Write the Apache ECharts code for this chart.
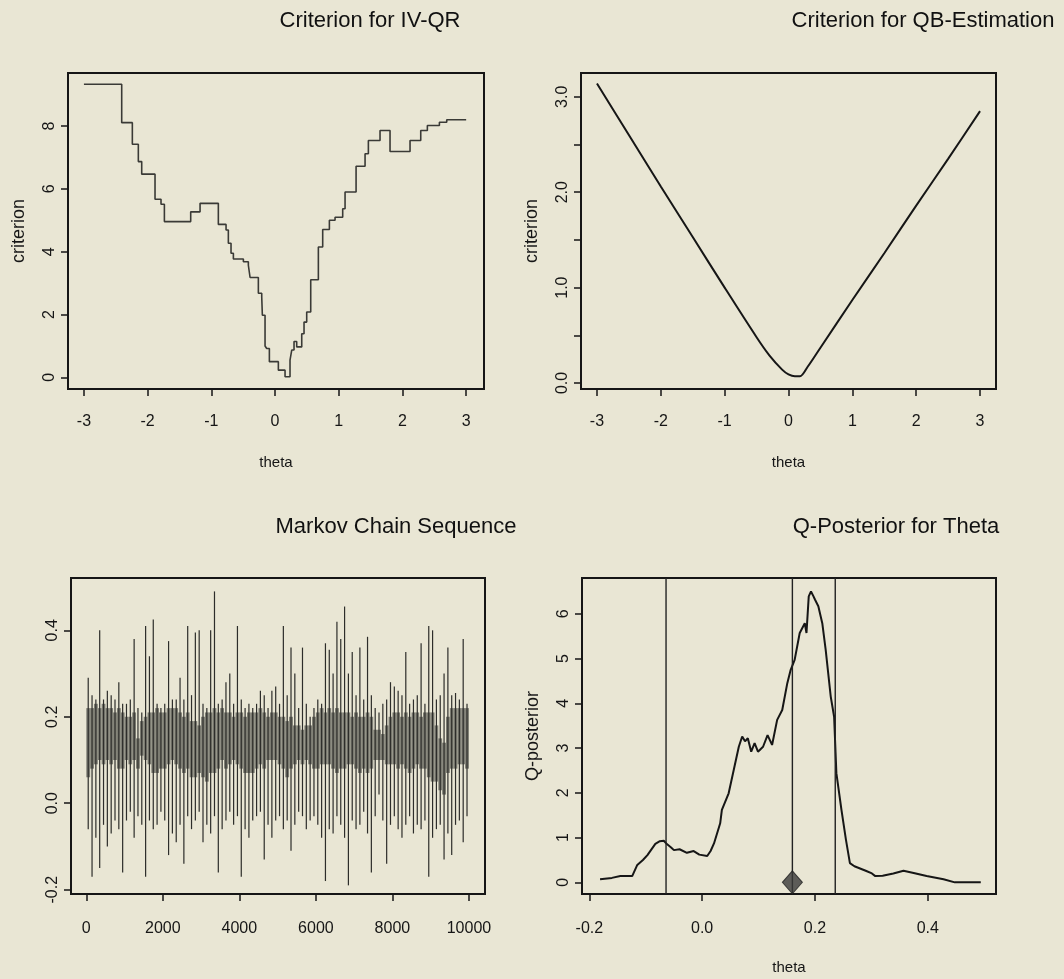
<!DOCTYPE html>
<html><head><meta charset="utf-8">
<script src="https://cdn.jsdelivr.net/npm/echarts@6/dist/echarts.min.js"></script>
<style>html,body{margin:0;padding:0;background:#e9e6d4;}#c{width:1064px;height:979px;}</style>
</head><body><div id="c"></div>
<script>
// ---------- Panel 1: Criterion for IV-QR (step function; value holds from each theta to the next) ----------
const thetaIV = [-3.0,-2.407,-2.240,-2.146,-2.093,-1.884,-1.790,-1.737,-1.324,-1.177,-0.890,-0.769,-0.733,-0.691,-0.654,-0.497,-0.419,-0.392,-0.262,-0.209,-0.199,-0.157,-0.131,-0.089,0.052,0.157,0.235,0.262,0.298,0.340,0.419,0.455,0.497,0.560,0.680,0.748,0.853,0.942,1.062,1.099,1.272,1.413,1.465,1.648,1.805,2.119,2.287,2.391,2.580,2.695,3.0];
const critIV  = [9.33,8.11,7.42,6.87,6.47,5.67,5.51,4.96,5.27,5.54,4.87,4.69,4.27,3.95,3.77,3.68,3.57,3.18,2.68,2.56,1.98,1.00,0.92,0.50,0.23,0.02,0.55,0.87,1.14,0.97,1.39,1.76,2.08,3.11,4.15,4.71,5.00,5.10,5.37,5.90,6.72,7.12,7.54,7.86,7.19,7.54,7.86,8.02,8.12,8.20,8.20];
const ivXTicks = [-3,-2,-1,0,1,2,3];
const ivYTicks = [0,2,4,6,8];

// ---------- Panel 2: Criterion for QB-Estimation ----------
const thetaQB = [-3.0,-2.5,-2.0,-1.5,-1.0,-0.5,-0.3,-0.1,0.0,0.1,0.18,0.3,0.5,1.0,1.5,2.0,2.5,3.0];
const critQB  = [3.14,2.60,2.06,1.53,1.00,0.48,0.29,0.14,0.09,0.07,0.07,0.17,0.37,0.87,1.36,1.86,2.35,2.85];
const qbXTicks = [-3,-2,-1,0,1,2,3];
const qbYTicks = [0,0.5,1,1.5,2,2.5,3];
const qbYLabels = [0,1,2,3];

// ---------- Panel 3: Markov Chain Sequence (per 100-iteration bin: extreme low/high, dense band low/high) ----------
const mcBinWidth = 100;
const mcHigh = [0.29,0.25,0.24,0.40,0.24,0.26,0.25,0.24,0.28,0.23,
                0.23,0.24,0.38,0.22,0.21,0.41,0.34,0.425,0.23,0.22,
                0.23,0.375,0.24,0.24,0.29,0.24,0.41,0.25,0.395,0.40,
                0.23,0.22,0.40,0.49,0.23,0.24,0.28,0.30,0.23,0.41,
                0.24,0.22,0.23,0.22,0.23,0.26,0.25,0.22,0.26,0.27,
                0.23,0.41,0.25,0.36,0.30,0.22,0.36,0.23,0.20,0.22,
                0.24,0.23,0.37,0.355,0.30,0.42,0.38,0.455,0.30,0.35,
                0.25,0.36,0.24,0.385,0.25,0.22,0.21,0.23,0.24,0.28,
                0.27,0.26,0.25,0.35,0.23,0.24,0.25,0.37,0.23,0.41,
                0.40,0.24,0.25,0.30,0.36,0.25,0.255,0.24,0.38,0.23];
const mcLow = [-0.06,-0.17,-0.08,-0.15,-0.05,-0.10,-0.07,-0.04,-0.06,-0.16,
               -0.04,-0.02,-0.08,-0.03,-0.05,-0.17,-0.04,-0.06,-0.05,-0.02,
               -0.04,-0.12,-0.07,-0.09,-0.05,-0.14,-0.03,-0.06,-0.04,-0.02,
               -0.09,-0.05,-0.07,-0.03,-0.16,-0.06,-0.04,-0.02,-0.05,-0.03,
               -0.17,-0.06,-0.08,-0.04,-0.03,-0.02,-0.13,-0.05,-0.08,-0.04,
               -0.03,-0.06,-0.04,-0.11,-0.05,-0.02,-0.03,-0.06,-0.04,-0.03,
               -0.05,-0.08,-0.18,-0.06,-0.07,-0.03,-0.05,-0.08,-0.19,-0.04,
               -0.06,-0.05,-0.02,-0.07,-0.16,-0.03,0.02,-0.04,-0.14,-0.05,
               -0.03,-0.06,-0.08,-0.05,-0.03,-0.07,-0.05,-0.06,-0.04,-0.17,
               -0.08,-0.06,-0.05,-0.13,-0.07,-0.12,-0.05,-0.04,-0.09,-0.03];
const mcBandHi = [0.22,0.22,0.23,0.22,0.23,0.22,0.22,0.21,0.22,0.21,
                  0.20,0.20,0.21,0.15,0.19,0.20,0.21,0.21,0.22,0.21,
                  0.21,0.22,0.22,0.22,0.21,0.20,0.21,0.19,0.19,0.18,
                  0.20,0.21,0.21,0.22,0.21,0.22,0.21,0.21,0.20,0.21,
                  0.21,0.20,0.21,0.21,0.21,0.22,0.21,0.20,0.21,0.21,
                  0.20,0.20,0.19,0.20,0.18,0.18,0.17,0.18,0.18,0.20,
                  0.21,0.22,0.21,0.22,0.21,0.22,0.21,0.21,0.21,0.20,
                  0.21,0.20,0.20,0.21,0.20,0.17,0.17,0.16,0.18,0.20,
                  0.21,0.21,0.20,0.21,0.20,0.21,0.21,0.20,0.21,0.21,
                  0.21,0.18,0.15,0.14,0.20,0.22,0.22,0.22,0.22,0.22];
const mcBandLo = [0.06,0.08,0.09,0.10,0.09,0.10,0.09,0.10,0.08,0.08,
                  0.10,0.09,0.10,0.08,0.11,0.10,0.09,0.07,0.07,0.08,
                  0.08,0.09,0.10,0.09,0.08,0.07,0.08,0.06,0.06,0.07,
                  0.06,0.05,0.07,0.07,0.08,0.10,0.08,0.09,0.10,0.09,
                  0.08,0.07,0.07,0.07,0.08,0.09,0.08,0.10,0.10,0.10,
                  0.09,0.08,0.06,0.08,0.09,0.10,0.09,0.10,0.09,0.08,
                  0.08,0.09,0.09,0.09,0.08,0.07,0.08,0.08,0.09,0.09,
                  0.08,0.07,0.08,0.07,0.08,0.10,0.10,0.10,0.09,0.09,
                  0.09,0.08,0.09,0.08,0.07,0.08,0.09,0.08,0.08,0.06,
                  0.05,0.05,0.03,0.02,0.07,0.08,0.08,0.09,0.09,0.08];
const mcXTicks = [0,2000,4000,6000,8000,10000];
const mcYTicks = [-0.2,0,0.2,0.4];

// ---------- Panel 4: Q-Posterior for Theta ----------
const thetaQP = [-0.181,-0.160,-0.145,-0.124,-0.115,-0.105,-0.097,-0.083,-0.075,-0.068,-0.062,-0.055,-0.050,-0.040,-0.027,-0.015,-0.005,0.009,0.015,0.021,0.032,0.035,0.047,0.056,0.065,0.071,0.076,0.081,0.087,0.093,0.099,0.108,0.116,0.124,0.133,0.142,0.151,0.157,0.164,0.173,0.182,0.185,0.189,0.193,0.197,0.200,0.206,0.213,0.219,0.228,0.234,0.238,0.247,0.255,0.262,0.270,0.280,0.290,0.301,0.307,0.320,0.339,0.357,0.375,0.398,0.428,0.448,0.494];
const postQP  = [0.07,0.10,0.14,0.14,0.39,0.50,0.61,0.86,0.92,0.93,0.85,0.78,0.72,0.74,0.66,0.70,0.62,0.59,0.70,0.87,1.32,1.62,1.99,2.51,3.03,3.26,3.15,3.22,2.92,3.11,2.92,3.03,3.29,3.07,3.63,3.85,4.45,4.75,4.97,5.57,5.79,5.57,6.39,6.50,6.40,6.32,6.17,5.79,5.20,4.15,3.70,2.44,1.62,0.95,0.43,0.36,0.31,0.26,0.20,0.14,0.15,0.20,0.26,0.21,0.14,0.07,0.00,0.00];
const qpIntervalLines = [-0.064,0.160,0.236];
const qpEstimate = [0.160, 0];
const qpXTicks = [-0.2,0,0.2,0.4];
const qpYTicks = [0,1,2,3,4,5,6];

// ---------- layout / style ----------
const FONT = "'Liberation Sans', Arial, sans-serif";
const INK = '#161616';
const QP_YMIN = -0.26, QP_YMAX = 6.8;
const grids = [
  {left:68, top:73, width:416, height:316},
  {left:581, top:73, width:415, height:316},
  {left:71, top:578, width:414, height:316},
  {left:582, top:578, width:414, height:316}
];

function xAxis(gi, min, max, ticks, fmt, name, margin) {
  return {
    type:'value', gridIndex:gi, min:min, max:max, position:'bottom',
    axisLine:{show:false, onZero:false},
    axisTick:{show:true, inside:false, length:7, customValues:ticks, lineStyle:{color:INK, width:1.5}},
    axisLabel:{customValues:ticks, formatter:fmt, margin:margin, color:INK, fontSize:16, fontFamily:FONT},
    splitLine:{show:false},
    name:name || '', nameLocation:'middle', nameGap:66,
    nameTextStyle:{color:INK, fontSize:15, fontFamily:FONT}
  };
}
function yAxis(gi, min, max, ticks, labels, fmt, name) {
  return {
    type:'value', gridIndex:gi, min:min, max:max, position:'left',
    axisLine:{show:false, onZero:false},
    axisTick:{show:true, inside:false, length:7, customValues:ticks, lineStyle:{color:INK, width:1.5}},
    axisLabel:{customValues:labels, formatter:fmt, rotate:90, margin:10, color:INK, fontSize:16, fontFamily:FONT},
    splitLine:{show:false},
    name:name || '', nameLocation:'middle', nameGap:40, nameRotate:90,
    nameTextStyle:{color:INK, fontSize:18, fontFamily:FONT}
  };
}
const intFmt = v => String(Math.round(v));
const f1 = v => v.toFixed(1);

const series = [];
// panel 1
series.push({type:'line', xAxisIndex:0, yAxisIndex:0, step:'end', showSymbol:false,
  data:thetaIV.map((t,i)=>[t, critIV[i]]), lineStyle:{color:'#3a3a36', width:1.6}});
// panel 2
series.push({type:'line', xAxisIndex:1, yAxisIndex:1, showSymbol:false, smooth:0.3,
  data:thetaQB.map((t,i)=>[t, critQB[i]]), lineStyle:{color:INK, width:2}});
// panel 3
series.push({type:'custom', xAxisIndex:2, yAxisIndex:2,
  data:mcHigh.map((h,i)=>[i*mcBinWidth + mcBinWidth/2, mcLow[i], h, mcBandLo[i], mcBandHi[i]]),
  encode:{x:0, y:[1,2,3,4]},
  renderItem:function(params, api){
    const x = api.value(0);
    const p1 = api.coord([x, api.value(1)]);
    const p2 = api.coord([x, api.value(2)]);
    const b1 = api.coord([x - mcBinWidth/2, api.value(4)]);
    const b2 = api.coord([x + mcBinWidth/2, api.value(3)]);
    return {type:'group', children:[
      {type:'rect', shape:{x:b1[0], y:b1[1], width:b2[0]-b1[0], height:b2[1]-b1[1]}, style:{fill:'#7c7c72'}},
      {type:'line', shape:{x1:p1[0], y1:p1[1], x2:p2[0], y2:p2[1]}, style:{stroke:'#2d2d2a', lineWidth:1.2}}
    ]};
  }
});
// panel 4
series.push({type:'line', xAxisIndex:3, yAxisIndex:3, showSymbol:false,
  data:thetaQP.map((t,i)=>[t, postQP[i]]), lineStyle:{color:INK, width:2}});
qpIntervalLines.forEach(x => series.push({type:'line', xAxisIndex:3, yAxisIndex:3, showSymbol:false,
  data:[[x, QP_YMIN],[x, QP_YMAX]], lineStyle:{color:'#222', width:1.4}}));
series.push({type:'scatter', xAxisIndex:3, yAxisIndex:3, symbol:'diamond', symbolSize:[20,23],
  data:[qpEstimate], itemStyle:{color:'#3a3a38', borderColor:'#222', borderWidth:1}, z:5});

const titles = [
  ['Criterion for IV-QR', 370, 21],
  ['Criterion for QB-Estimation', 923, 21],
  ['Markov Chain Sequence', 396, 527],
  ['Q-Posterior for Theta', 896, 527]
];

const chart = echarts.init(document.getElementById('c'), null, {renderer:'canvas'});
chart.setOption({
  backgroundColor:'#e9e6d4',
  animation:false,
  grid: grids.map(g => Object.assign({show:true, borderColor:INK, borderWidth:2, backgroundColor:'transparent', containLabel:false}, g)),
  xAxis:[
    xAxis(0, -3.25, 3.28, ivXTicks, intFmt, 'theta', 25),
    xAxis(1, -3.25, 3.25, qbXTicks, intFmt, 'theta', 25),
    xAxis(2, -400, 10420, mcXTicks, intFmt, '', 27),
    xAxis(3, -0.213, 0.521, qpXTicks, f1, 'theta', 27)
  ],
  yAxis:[
    yAxis(0, -0.37, 9.69, ivYTicks, ivYTicks, intFmt, 'criterion'),
    yAxis(1, -0.063, 3.25, qbYTicks, qbYLabels, f1, 'criterion'),
    yAxis(2, -0.21, 0.521, mcYTicks, mcYTicks, f1, ''),
    yAxis(3, QP_YMIN, QP_YMAX, qpYTicks, qpYTicks, intFmt, 'Q-posterior')
  ],
  graphic: titles.map(t => ({type:'text', x:t[1], y:t[2], style:{text:t[0], fill:'#111', font:"22px " + FONT, textAlign:'center', textVerticalAlign:'middle'}})),
  series: series
});
</script>
</body></html>
